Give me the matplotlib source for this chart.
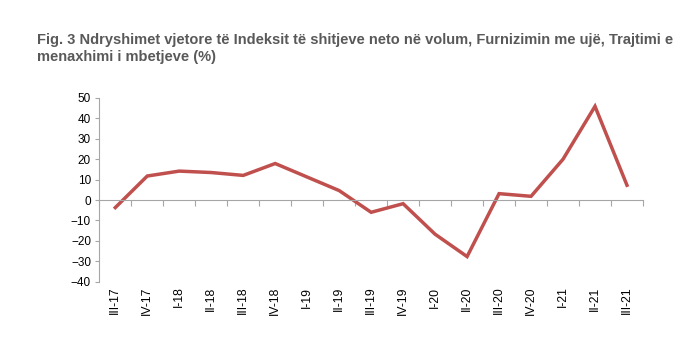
import numpy as np
import matplotlib.pyplot as plt
from matplotlib import transforms

quarters = ['III-17', 'IV-17', 'I-18', 'II-18', 'III-18', 'IV-18', 'I-19', 'II-19',
            'III-19', 'IV-19', 'I-20', 'II-20', 'III-20', 'IV-20', 'I-21', 'II-21', 'III-21']
change = [-3.7, 11.7, 14.1, 13.4, 12.0, 17.8, 11.2, 4.6,
          -6.0, -1.8, -16.7, -27.6, 3.1, 1.8, 19.9, 45.7, 7.2]
yticks = [50, 40, 30, 20, 10, 0, -10, -20, -30, -40]

plt.rcParams['font.family'] = ['Liberation Sans', 'DejaVu Sans']

fig = plt.figure(figsize=(6.91, 3.38), dpi=100)
ax = fig.add_axes([0.1437, 0.1657, 0.7868, 0.5458])

x = np.arange(len(quarters))
ax.plot(x, change, color='#C0504D', lw=2.5, solid_joinstyle='miter')

ax.set_xlim(-0.5, len(quarters) - 0.5)
ax.set_ylim(-40, 50)
ax.set_yticks(yticks)
ax.tick_params(axis='y', length=3, color='#A6A6A6', labelsize=8.5, labelcolor='#000000', pad=3)

# horizontal axis sits on zero, category labels stay at the bottom
ax.spines['bottom'].set_position(('data', 0))
ax.spines['bottom'].set_color('#A6A6A6')
ax.spines['left'].set_color('#A6A6A6')
ax.spines['top'].set_visible(False)
ax.spines['right'].set_visible(False)
ax.set_xticks(np.arange(len(quarters) + 1) - 0.5)
ax.set_xticklabels([])
ax.tick_params(axis='x', length=4, color='#A6A6A6', direction='out')

trans = transforms.blended_transform_factory(ax.transData, ax.transAxes)
for i, q in enumerate(quarters):
    ax.text(i, -0.025, q, transform=trans, rotation=90, ha='center', va='top',
            fontsize=8.8, color='#000000')

fig.text(0.054, 0.870, 'Fig. 3 Ndryshimet vjetore të Indeksit të shitjeve neto në volum, '
         'Furnizimin me ujë, Trajtimi e', fontsize=10.5, fontweight='bold', color='#595959')
fig.text(0.054, 0.820, 'menaxhimi i mbetjeve (%)', fontsize=10.5, fontweight='bold',
         color='#595959')

fig.savefig('out.png', dpi=100)
